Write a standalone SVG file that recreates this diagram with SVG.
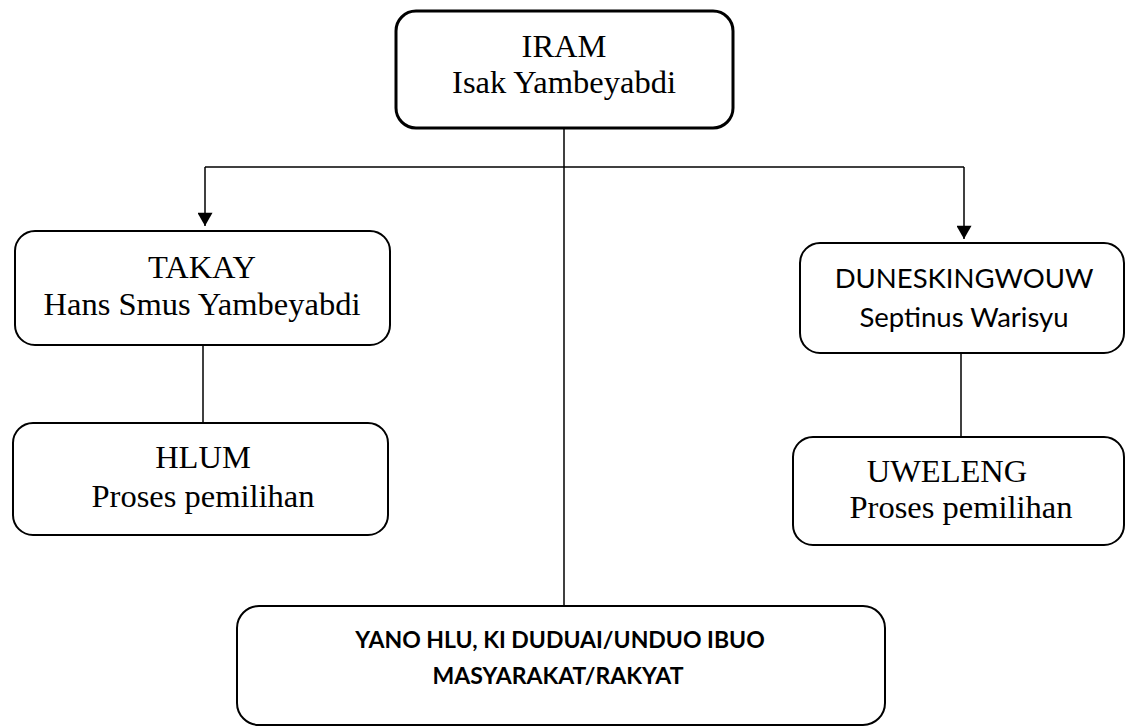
<svg xmlns="http://www.w3.org/2000/svg" width="1126" height="728" viewBox="0 0 1126 728">
<style>
.box{fill:#fff;stroke:#000;stroke-width:2}
.thick{stroke-width:3}
.ser{font-family:"Liberation Serif","Times New Roman",serif;font-size:32.5px;fill:#000;text-anchor:middle}
.sans{font-family:Lato,"Liberation Sans",sans-serif;font-size:27.5px;fill:#000;text-anchor:middle}
.bold{font-family:Lato,"Liberation Sans",sans-serif;font-size:23px;font-weight:bold;fill:#000;text-anchor:middle}
.ln{fill:none;stroke:#000;stroke-width:1.5}
</style>
<defs>
<marker id="arr" markerWidth="17" markerHeight="15" refX="15" refY="8.5" orient="auto" markerUnits="userSpaceOnUse" viewBox="0 0 15 17">
<path d="M0,0 L15,8.5 L0,17 Z" fill="#000"/>
</marker>
</defs>
<g id="connectors">
<line class="ln" x1="564" y1="128" x2="564" y2="606"/>
<path class="ln" d="M205,167 H964"/>
<path class="ln" d="M205,167 V226" marker-end="url(#arr)"/>
<path class="ln" d="M964,167 V239" marker-end="url(#arr)"/>
<line class="ln" x1="203" y1="345" x2="203" y2="423"/>
<line class="ln" x1="961" y1="353" x2="961" y2="437"/>
</g>
<g id="iram">
<rect class="box thick" x="396" y="11" width="337" height="117" rx="20"/>
<text class="ser" x="564" y="57">IRAM</text>
<text class="ser" x="564" y="93">Isak Yambeyabdi</text>
</g>
<g id="takay">
<rect class="box" x="15" y="231" width="375" height="114" rx="20"/>
<text class="ser" x="202" y="278">TAKAY</text>
<text class="ser" x="202" y="315">Hans Smus Yambeyabdi</text>
</g>
<g id="hlum">
<rect class="box" x="13" y="423" width="375" height="112" rx="20"/>
<text class="ser" x="203" y="468">HLUM</text>
<text class="ser" x="203" y="507">Proses pemilihan</text>
</g>
<g id="duneskingwouw">
<rect class="box" x="800" y="243" width="324" height="110" rx="20"/>
<text class="sans" x="964" y="288">DUNESKINGWOUW</text>
<text class="sans" x="964" y="327">Septinus Warisyu</text>
</g>
<g id="uweleng">
<rect class="box" x="793" y="437" width="331" height="108" rx="20"/>
<text class="ser" x="947" y="482">UWELENG</text>
<text class="ser" x="961" y="518">Proses pemilihan</text>
</g>
<g id="masyarakat">
<rect class="box" x="237" y="606" width="648" height="119" rx="22"/>
<text class="bold" x="560" y="648">YANO HLU, KI DUDUAI/UNDUO IBUO</text>
<text class="bold" x="558" y="684">MASYARAKAT/RAKYAT</text>
</g>
</svg>
